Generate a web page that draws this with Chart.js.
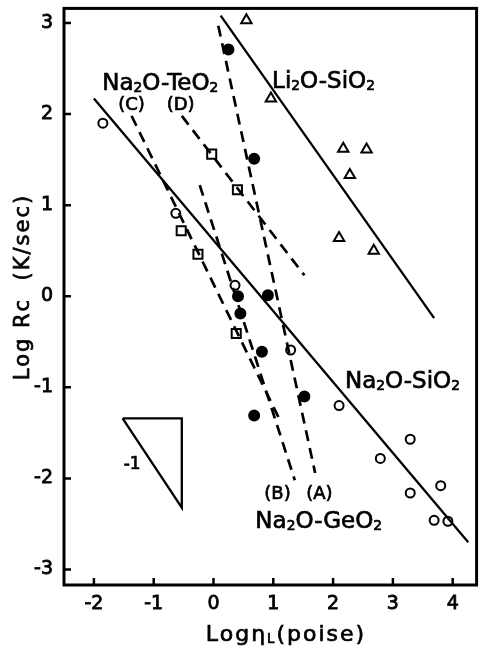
<!DOCTYPE html>
<html>
<head>
<meta charset="utf-8">
<script src="https://cdn.jsdelivr.net/npm/chart.js@4"></script>
<style>
  body { margin: 0; background: #fff; }
  #wrap { width: 485px; height: 650px; position: relative; }
</style>
</head>
<body>
<div id="wrap"><canvas id="rcChart"></canvas></div>
<script>
// axis ticks
const xTicks = [-2, -1, 0, 1, 2, 3, 4];
const yTicks = [-3, -2, -1, 0, 1, 2, 3];

// Li2O-SiO2 (open triangles)
const liX = [0.55, 0.96, 2.17, 2.56, 2.28, 2.10, 2.68];
const liY = [3.03, 2.17, 1.62, 1.61, 1.33, 0.64, 0.50];

// Na2O-SiO2 (open circles)
const siX = [-1.85, -0.63, 0.36, 1.29, 2.10, 3.29, 2.79, 3.29, 3.80, 3.69, 3.92];
const siY = [1.90, 0.91, 0.12, -0.59, -1.20, -1.57, -1.78, -2.16, -2.08, -2.46, -2.47];

// Na2O-GeO2 (filled circles)
const geX = [0.25, 0.68, 0.91, 0.41, 0.45, 0.81, 1.52, 0.68];
const geY = [2.71, 1.51, 0.01, 0.00, -0.19, -0.61, -1.10, -1.31];

// Na2O-TeO2 (open squares)
const teX = [-0.03, 0.40, -0.54, -0.26, 0.38];
const teY = [1.56, 1.17, 0.72, 0.46, -0.41];

// fitted lines (end points)
const fitLiX = [0.12, 3.69], fitLiY = [3.08, -0.24];
const fitSiX = [-2.00, 4.26], fitSiY = [2.17, -2.70];
const fitAX = [0.08, 1.70], fitAY = [2.97, -1.94];
const fitBX = [-0.23, 1.36], fitBY = [1.22, -2.02];
const fitCX = [-1.37, 1.11], fitCY = [1.98, -1.36];
const fitDX = [-0.53, 1.52], fitDY = [1.98, 0.23];

// slope -1 triangle
const slopeX = [-1.52, -0.53, -0.53, -1.52];
const slopeY = [-1.34, -1.34, -2.32, -1.34];

const pts = (xs, ys) => xs.map((x, i) => ({ x: x, y: ys[i] }));

const FONT = '"DejaVu Sans", sans-serif';

function lineSet(xs, ys, dashed) {
  return {
    data: pts(xs, ys),
    showLine: true,
    borderColor: '#000',
    borderWidth: dashed ? 2.7 : 2.3,
    borderDash: dashed ? [11, 7] : [],
    pointRadius: 0,
    fill: false
  };
}

function markerSet(xs, ys, style, radius, filled) {
  return {
    data: pts(xs, ys),
    showLine: false,
    pointStyle: style,
    pointRadius: radius,
    pointBorderColor: '#000',
    pointBackgroundColor: filled ? '#000' : '#fff',
    pointBorderWidth: 2
  };
}

// draws text with small "2"/"L" pieces; parts = [[text, small], ...]
function drawParts(ctx, parts, x, y, size, align) {
  let total = 0;
  parts.forEach(p => {
    ctx.font = (p[1] ? size * 0.6 : size) + 'px ' + FONT;
    total += ctx.measureText(p[0]).width;
  });
  let cx = align === 'center' ? x - total / 2 : x;
  ctx.textAlign = 'left';
  ctx.textBaseline = 'alphabetic';
  ctx.lineWidth = 0.7;
  parts.forEach(p => {
    ctx.font = (p[1] ? size * 0.6 : size) + 'px ' + FONT;
    ctx.fillText(p[0], cx, y + (p[1] ? 2 : 0));
    ctx.strokeText(p[0], cx, y + (p[1] ? 2 : 0));
    cx += ctx.measureText(p[0]).width;
  });
}

const framePlugin = {
  id: 'frame',
  afterDraw(chart) {
    const ctx = chart.ctx;
    const a = chart.chartArea;
    const xs = chart.scales.x, ys = chart.scales.y;
    ctx.save();
    ctx.strokeStyle = '#000';
    ctx.lineWidth = 3;
    ctx.strokeRect(a.left, a.top, a.right - a.left, a.bottom - a.top);
    ctx.lineWidth = 2.5;
    ctx.beginPath();
    xTicks.forEach(v => {
      const px = xs.getPixelForValue(v);
      ctx.moveTo(px, a.bottom);
      ctx.lineTo(px, a.bottom - 7);
    });
    yTicks.forEach(v => {
      const py = ys.getPixelForValue(v);
      ctx.moveTo(a.left, py);
      ctx.lineTo(a.left + 7, py);
    });
    ctx.stroke();

    ctx.fillStyle = '#000';
    const P = (x, y) => [xs.getPixelForValue(x), ys.getPixelForValue(y)];
    let p;
    p = P(-0.89, 2.26);
    drawParts(ctx, [['Na', 0], ['2', 1], ['O-TeO', 0], ['2', 1]], p[0], p[1], 23, 'center');
    p = P(-1.37, 2.05);
    drawParts(ctx, [['(C)', 0]], p[0], p[1], 18, 'center');
    p = P(-0.55, 2.05);
    drawParts(ctx, [['(D)', 0]], p[0], p[1], 18, 'center');
    p = P(1.84, 2.29);
    drawParts(ctx, [['Li', 0], ['2', 1], ['O-SiO', 0], ['2', 1]], p[0], p[1], 23, 'center');
    p = P(3.16, -1.01);
    drawParts(ctx, [['Na', 0], ['2', 1], ['O-SiO', 0], ['2', 1]], p[0], p[1], 23, 'center');
    p = P(1.07, -2.23);
    drawParts(ctx, [['(B)', 0]], p[0], p[1], 18, 'center');
    p = P(1.77, -2.23);
    drawParts(ctx, [['(A)', 0]], p[0], p[1], 18, 'center');
    p = P(1.76, -2.54);
    drawParts(ctx, [['Na', 0], ['2', 1], ['O-GeO', 0], ['2', 1]], p[0], p[1], 23, 'center');
    p = P(-1.36, -1.90);
    drawParts(ctx, [['-1', 0]], p[0], p[1], 17, 'center');

    // axis titles
    ctx.letterSpacing = '2px';
    drawParts(ctx, [['Log', 0], ['η', 0], ['L', 1], ['(poise)', 0]], 286, 641, 22, 'center');
    ctx.translate(29, 287);
    ctx.rotate(-Math.PI / 2);
    drawParts(ctx, [['Log Rc  (K/sec)', 0]], 0, 0, 21, 'center');
    ctx.restore();
  }
};

new Chart(document.getElementById('rcChart'), {
  type: 'scatter',
  data: {
    datasets: [
      lineSet(fitLiX, fitLiY, false),
      lineSet(fitSiX, fitSiY, false),
      lineSet(fitAX, fitAY, true),
      lineSet(fitBX, fitBY, true),
      lineSet(fitCX, fitCY, true),
      lineSet(fitDX, fitDY, true),
      lineSet(slopeX, slopeY, false),
      markerSet(liX, liY, 'triangle', 6, false),
      markerSet(siX, siY, 'circle', 4.5, false),
      markerSet(geX, geY, 'circle', 5, true),
      markerSet(teX, teY, 'rect', 6.4, false)
    ]
  },
  options: {
    responsive: true,
    maintainAspectRatio: false,
    animation: false,
    layout: { padding: { left: 0, top: 8, right: 4, bottom: 0 } },
    plugins: { legend: { display: false }, tooltip: { enabled: false } },
    scales: {
      x: {
        type: 'linear',
        min: -2.5, max: 4.4,
        grid: { display: false, drawTicks: false },
        border: { display: false },
        afterBuildTicks: s => { s.ticks = xTicks.map(v => ({ value: v })); },
        afterFit: s => { s.height = 65; s.paddingLeft = 0; s.paddingRight = 0; },
        ticks: { color: '#000', padding: 8, font: { family: FONT, size: 19 }, maxRotation: 0,
                 textStrokeColor: '#000', textStrokeWidth: 0.8 }
      },
      y: {
        type: 'linear',
        min: -3.17, max: 3.16,
        grid: { display: false, drawTicks: false },
        border: { display: false },
        afterBuildTicks: s => { s.ticks = yTicks.map(v => ({ value: v })); },
        afterFit: s => { s.width = 64; s.paddingTop = 0; s.paddingBottom = 0; },
        ticks: { color: '#000', padding: 11, font: { family: FONT, size: 19 },
                 textStrokeColor: '#000', textStrokeWidth: 0.8 }
      }
    }
  },
  plugins: [framePlugin]
});
</script>
</body>
</html>
